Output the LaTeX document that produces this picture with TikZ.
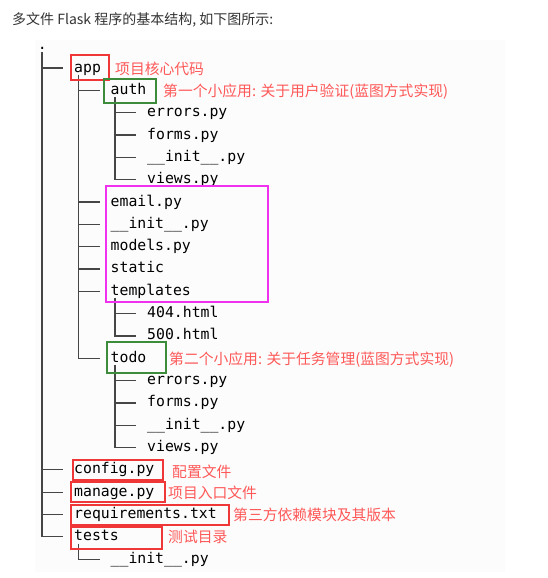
\documentclass[tikz,border=0pt]{standalone}
\usepackage{fontspec}
\newfontfamily\monofont{DejaVu Sans Mono}
\newfontfamily\cjk{Noto Sans CJK SC}
\usepackage{tikz}
\usetikzlibrary{positioning}

\definecolor{notered}{RGB}{255,88,88}
\definecolor{boxred}{RGB}{240,55,55}
\definecolor{boxgreen}{RGB}{60,140,60}
\definecolor{boxpink}{RGB}{240,50,240}
\definecolor{treegray}{RGB}{70,70,70}

\begin{document}
\begin{tikzpicture}[x=1pt,y=-1pt,
    file/.style={anchor=west,inner sep=0pt,text height=10.5pt,text depth=2.5pt,
      font=\monofont\fontsize{14.8}{16}\selectfont},
    note/.style={anchor=west,inner sep=0pt,text=notered,
      font=\cjk\fontsize{14.8}{16}\selectfont},
    tree/.style={draw=treegray,line width=1.2pt},
    hbox/.style={draw,line width=1.8pt}]
        \useasboundingbox (0,0) rectangle (547,578);
        \fill[black!1] (35,40) rectangle (505,572);

        \node[anchor=west,inner sep=0pt,text=black!80,font=\cjk\fontsize{14}{16}\selectfont]
          (title) at (12,20) {多文件 Flask 程序的基本结构, 如下图所示:};

        %############################################

        \node[file] (root) at (37.6,45.7) {.};
        \node[file] (app) at (74,68.0) {app};
        \node[file] (auth) at (110.5,90.3) {auth};
        \node[file] (autherr) at (147,112.7) {errors.py};
        \node[file] (authforms) at (147,135.0) {forms.py};
        \node[file] (authinit) at (147,157.3) {\_\_init\_\_.py};
        \node[file] (authviews) at (147,179.6) {views.py};
        \node[file] (email) at (110.5,202.0) {email.py};
        \node[file] (appinit) at (110.5,224.3) {\_\_init\_\_.py};
        \node[file] (models) at (110.5,246.6) {models.py};
        \node[file] (static) at (110.5,268.9) {static};
        \node[file] (templates) at (110.5,291.2) {templates};
        \node[file] (t404) at (147,313.6) {404.html};
        \node[file] (t500) at (147,335.9) {500.html};
        \node[file] (todo) at (110.5,358.2) {todo};
        \node[file] (todoerr) at (147,380.5) {errors.py};
        \node[file] (todoforms) at (147,402.9) {forms.py};
        \node[file] (todoinit) at (147,425.2) {\_\_init\_\_.py};
        \node[file] (todoviews) at (147,447.5) {views.py};
        \node[file] (config) at (74,469.8) {config.py};
        \node[file] (manage) at (74,492.1) {manage.py};
        \node[file] (req) at (74,514.4) {requirements.txt};
        \node[file] (tests) at (74,536.8) {tests};
        \node[file] (testsinit) at (110.5,559.1) {\_\_init\_\_.py};

        %############################################

        \coordinate (rootT) at ([xshift=4.4pt]root.south west);
        \coordinate (appT) at ([xshift=4.4pt]app.south west);
        \coordinate (authT) at ([xshift=4.4pt]auth.south west);
        \coordinate (templatesT) at ([xshift=4.4pt]templates.south west);
        \coordinate (todoT) at ([xshift=4.4pt]todo.south west);
        \coordinate (testsT) at ([xshift=4.4pt]tests.south west);

        \foreach \c [remember=\c as \p (initially rootT)] in {app,config,manage,req,tests}
          \draw[tree] (\p -| rootT) |- ([xshift=-11pt]\c.west);
        \foreach \c [remember=\c as \p (initially appT)] in {auth,email,appinit,models,static,templates,todo}
          \draw[tree] (\p -| appT) |- ([xshift=-11pt]\c.west);
        \foreach \c [remember=\c as \p (initially authT)] in {autherr,authforms,authinit,authviews}
          \draw[tree] (\p -| authT) |- ([xshift=-11pt]\c.west);
        \foreach \c [remember=\c as \p (initially templatesT)] in {t404,t500}
          \draw[tree] (\p -| templatesT) |- ([xshift=-11pt]\c.west);
        \foreach \c [remember=\c as \p (initially todoT)] in {todoerr,todoforms,todoinit,todoviews}
          \draw[tree] (\p -| todoT) |- ([xshift=-11pt]\c.west);
        \draw[tree] (testsT) |- ([xshift=-11pt]testsinit.west);

        %############################################

        \draw[hbox,boxred] (71,55) rectangle (109,80);
        \draw[hbox,boxgreen] (104,79) rectangle (156,103);
        \draw[hbox,boxpink] (106,186) rectangle (268,302);
        \draw[hbox,boxgreen] (107,342) rectangle (166,373);
        \draw[hbox,boxred] (73,460) rectangle (163,480);
        \draw[hbox,boxred] (71,482) rectangle (165,502);
        \draw[hbox,boxred] (71,505) rectangle (229,525);
        \draw[hbox,boxred] (71,527) rectangle (162,549);

        \node[note] (appnote) at (115,69) {项目核心代码};
        \node[note] (authnote) at (163,92) {第一个小应用: 关于用户验证(蓝图方式实现)};
        \node[note] (todonote) at (169,360) {第二个小应用: 关于任务管理(蓝图方式实现)};
        \node[note] (confignote) at (172,472) {配置文件};
        \node[note] (managenote) at (168,493) {项目入口文件};
        \node[note] (reqnote) at (233,515) {第三方依赖模块及其版本};
        \node[note] (testsnote) at (168,537) {测试目录};
\end{tikzpicture}
\end{document}
